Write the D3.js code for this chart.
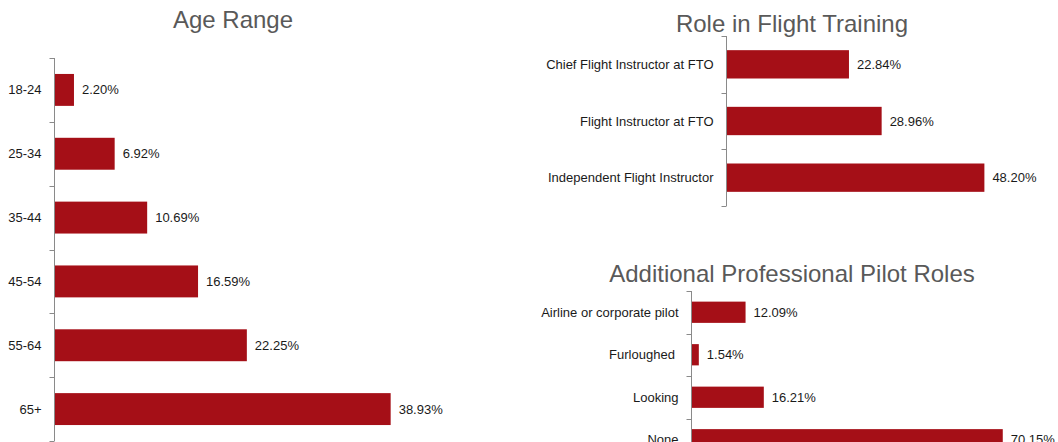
<!DOCTYPE html>
<html>
<head>
<meta charset="utf-8">
<script src="https://cdn.jsdelivr.net/npm/d3@7"></script>
<style>
  html, body { margin: 0; padding: 0; background: #fff; }
  svg { display: block; font-family: "Liberation Sans", Arial, sans-serif; }
</style>
</head>
<body>
<svg id="chart" width="1058" height="442"></svg>
<script>
// Survey results, percent of respondents
const ageCategories = ["18-24", "25-34", "35-44", "45-54", "55-64", "65+"];
const ageValues = [2.20, 6.92, 10.69, 16.59, 22.25, 38.93];

const roleCategories = ["Chief Flight Instructor at FTO", "Flight Instructor at FTO", "Independent Flight Instructor"];
const roleValues = [22.84, 28.96, 48.20];

const proCategories = ["Airline or corporate pilot", "Furloughed ", "Looking", "None"];
const proValues = [12.09, 1.54, 16.21, 70.15];

const BAR = "#a50f17";
const AXIS = "#8a8a8a";
const svg = d3.select("#chart");

function panel(cfg) {
  const g = svg.append("g");
  const y = d3.scaleBand()
    .domain(cfg.categories)
    .range([cfg.top, cfg.bottom])
    .paddingInner(0.5)
    .paddingOuter(0.25);
  const x = d3.scaleLinear()
    .domain([0, cfg.max])
    .range([cfg.axisX + 0.5, cfg.axisX + 0.5 + cfg.width]);

  // title
  g.append("text")
    .attr("x", cfg.titleX)
    .attr("y", cfg.titleY)
    .attr("text-anchor", "middle")
    .attr("fill", "#595959")
    .attr("font-size", cfg.titleSize)
    .text(cfg.title);

  // bars
  g.selectAll("rect.bar")
    .data(cfg.values)
    .join("rect")
    .attr("class", "bar")
    .attr("x", x(0))
    .attr("y", (d, i) => y(cfg.categories[i]))
    .attr("width", d => x(d) - x(0))
    .attr("height", y.bandwidth())
    .attr("fill", BAR);

  // value labels
  g.selectAll("text.val")
    .data(cfg.values)
    .join("text")
    .attr("class", "val")
    .attr("x", d => x(d) + 8)
    .attr("y", (d, i) => y(cfg.categories[i]) + y.bandwidth() / 2)
    .attr("dy", "0.35em")
    .attr("font-size", 13)
    .attr("fill", "#1a1a1a")
    .text(d => d.toFixed(2) + "%");

  // category axis: vertical rule with ticks between bands
  const step = y.step();
  const ax = g.append("g").attr("stroke", AXIS).attr("stroke-width", 1);
  ax.append("line")
    .attr("x1", cfg.axisX).attr("x2", cfg.axisX)
    .attr("y1", cfg.top).attr("y2", cfg.bottom);
  ax.selectAll("line.tick")
    .data(d3.range(cfg.categories.length + 1))
    .join("line")
    .attr("class", "tick")
    .attr("x1", cfg.axisX - 5).attr("x2", cfg.axisX)
    .attr("y1", i => Math.round(cfg.top + i * step) + 0.5)
    .attr("y2", i => Math.round(cfg.top + i * step) + 0.5);

  g.selectAll("text.cat")
    .data(cfg.categories)
    .join("text")
    .attr("class", "cat")
    .attr("x", cfg.axisX - 13)
    .attr("y", d => y(d) + y.bandwidth() / 2)
    .attr("dy", "0.35em")
    .attr("text-anchor", "end")
    .attr("font-size", 13)
    .attr("fill", "#1a1a1a")
    .style("white-space", "pre")
    .text(d => d);
}

panel({
  title: "Age Range", titleX: 233, titleY: 28, titleSize: 24,
  categories: ageCategories, values: ageValues,
  axisX: 54.5, top: 58, bottom: 441, max: 45, width: 388
});

panel({
  title: "Role in Flight Training", titleX: 792, titleY: 32, titleSize: 24,
  categories: roleCategories, values: roleValues,
  axisX: 726.5, top: 36, bottom: 206, max: 60, width: 320.4
});

panel({
  title: "Additional Professional Pilot Roles", titleX: 792, titleY: 282, titleSize: 24,
  categories: proCategories, values: proValues,
  axisX: 691.5, top: 291, bottom: 461, max: 80, width: 354.4
});
</script>
</body>
</html>
